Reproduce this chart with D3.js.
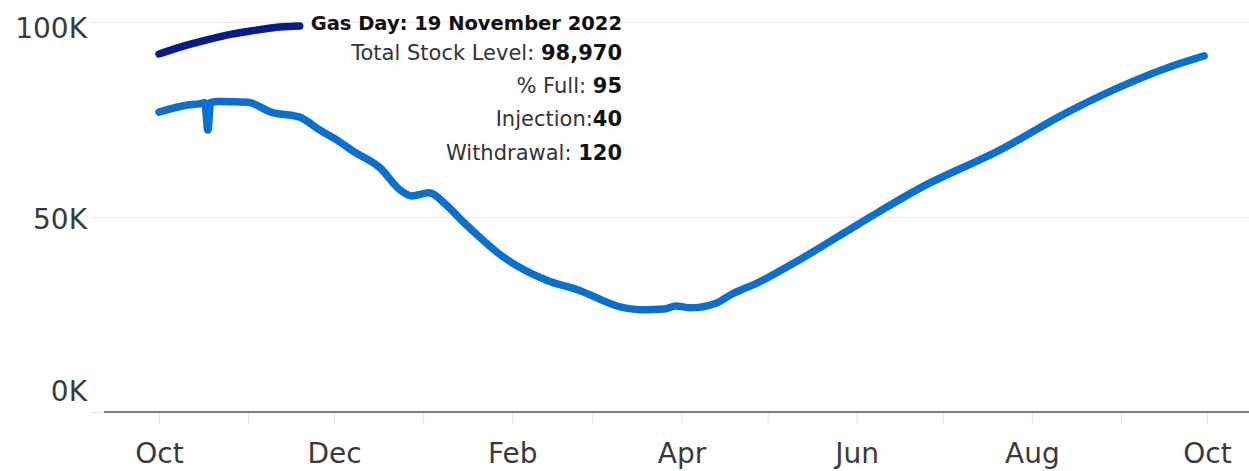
<!DOCTYPE html>
<html>
<head>
<meta charset="utf-8">
<script src="https://cdn.jsdelivr.net/npm/d3@7"></script>
<style>
  body { margin: 0; background: #fff; }
  svg { display: block; font-family: "DejaVu Sans", sans-serif; }
</style>
</head>
<body>
<svg id="chart" width="1249" height="471"></svg>
<script>
// previous gas year (2021/22), drawn on the same Oct-Oct axis
const prevDates = ["2021-10-01", "2021-10-11", "2021-10-15", "2021-10-17", "2021-10-18", "2021-10-19",
  "2021-10-22", "2021-11-01", "2021-11-09", "2021-11-19", "2021-11-26", "2021-12-02", "2021-12-08",
  "2021-12-17", "2021-12-24", "2021-12-28", "2022-01-03", "2022-01-09", "2022-01-15", "2022-01-21",
  "2022-01-27", "2022-02-04", "2022-02-13", "2022-02-24", "2022-03-11", "2022-03-19", "2022-03-26",
  "2022-03-30", "2022-04-04", "2022-04-13", "2022-04-18", "2022-04-28", "2022-05-12", "2022-06-01",
  "2022-06-08", "2022-06-23", "2022-07-21", "2022-08-13", "2022-08-31", "2022-09-17", "2022-09-30"];
const prevStock = [76900, 78700, 79000, 79300, 72300, 79400,
  79600, 79400, 76900, 75600, 72300, 69700, 66700,
  62600, 56900, 55400, 56200, 53100, 48700, 44600,
  40800, 36900, 33800, 31300, 26900, 26200, 26400,
  27200, 26700, 27900, 30000, 33300, 39000, 47900,
  51000, 57400, 67200, 76700, 83100, 88200, 91300];

// current gas year (2022/23)
const currDates = ["2022-10-01", "2022-10-09", "2022-10-17", "2022-10-25", "2022-11-02", "2022-11-12", "2022-11-19"];
const currStock = [91800, 93700, 95300, 96700, 97700, 98700, 98970];

// tooltip values for the highlighted gas day
const tipDate = "2022-11-19";
const tipPctFull = 95;
const tipInjection = 40;
const tipWithdrawal = 120;

const yTicks = [0, 50000, 100000];

const parse = d3.timeParse("%Y-%m-%d");
const prev = prevDates.map((d, i) => ({date: d3.timeYear.offset(parse(d), 1), value: prevStock[i]}));
const curr = currDates.map((d, i) => ({date: parse(d), value: currStock[i]}));

const svg = d3.select("#chart");

const x = d3.scaleTime()
    .domain([new Date(2022, 9, 1), new Date(2023, 9, 1)])
    .range([159, 1207]);

const y = d3.scaleLinear()
    .domain([0, 100000])
    .range([412, 22]);

// gridlines
svg.append("g")
    .attr("stroke", "#ebebeb")
    .attr("stroke-width", 1)
  .selectAll("line")
  .data(yTicks)
  .join("line")
    .attr("x1", 91)
    .attr("x2", 1249)
    .attr("y1", d => Math.round(y(d)) + 0.5)
    .attr("y2", d => Math.round(y(d)) + 0.5);

// x axis ticks (monthly, label every other month)
const xAxis = svg.append("g")
    .attr("transform", `translate(0,${y(0)})`)
    .call(d3.axisBottom(x)
      .ticks(d3.timeMonth.every(1))
      .tickSize(12)
      .tickPadding(19)
      .tickFormat(d => d.getMonth() % 2 === 1 ? d3.timeFormat("%b")(d) : ""));
xAxis.select(".domain").remove();
xAxis.selectAll(".tick line").attr("stroke", "#e4e4e4");
xAxis.selectAll(".tick text")
    .attr("font-size", 28)
    .attr("fill", "#3a3a3a")
    .attr("font-family", "DejaVu Sans");

// zero baseline
svg.append("line")
    .attr("x1", 104)
    .attr("x2", 1249)
    .attr("y1", y(0))
    .attr("y2", y(0))
    .attr("stroke", "#7d7d7d")
    .attr("stroke-width", 2);

// y axis labels
const labelShift = {0: -21, 50000: 2, 100000: 6};
svg.append("g")
  .selectAll("text")
  .data(yTicks)
  .join("text")
    .attr("x", 87)
    .attr("y", d => y(d) + labelShift[d])
    .attr("dy", "0.36em")
    .attr("text-anchor", "end")
    .attr("font-size", 28)
    .attr("fill", "#3a3a3a")
    .text(d => d / 1000 + "K");

const line = d3.line()
    .x(d => x(d.date))
    .y(d => y(d.value))
    .curve(d3.curveMonotoneX);

svg.append("path")
    .datum(prev)
    .attr("fill", "none")
    .attr("stroke", "#0b6fcf")
    .attr("stroke-width", 7.5)
    .attr("stroke-linecap", "round")
    .attr("stroke-linejoin", "round")
    .attr("d", line);

svg.append("path")
    .datum(curr)
    .attr("fill", "none")
    .attr("stroke", "#071b8a")
    .attr("stroke-width", 7.5)
    .attr("stroke-linecap", "round")
    .attr("stroke-linejoin", "round")
    .attr("d", line);

// tooltip
const last = curr[curr.length - 1];
const tipRows = [
  ["", "Gas Day: " + d3.timeFormat("%-d %B %Y")(parse(tipDate))],
  ["Total Stock Level: ", d3.format(",")(last.value)],
  ["% Full: ", tipPctFull],
  ["Injection:", tipInjection],
  ["Withdrawal: ", tipWithdrawal]
];
const tipBase = [30, 60, 93, 126, 160];

const tip = svg.append("g")
  .selectAll("text")
  .data(tipRows)
  .join("text")
    .attr("x", 622)
    .attr("y", (d, i) => tipBase[i])
    .attr("text-anchor", "end")
    .attr("font-size", (d, i) => i === 0 ? 19.5 : 21);

tip.append("tspan")
    .attr("fill", "#333")
    .text(d => d[0]);
tip.append("tspan")
    .attr("fill", "#111")
    .attr("font-weight", "bold")
    .text(d => d[1]);
</script>
</body>
</html>
